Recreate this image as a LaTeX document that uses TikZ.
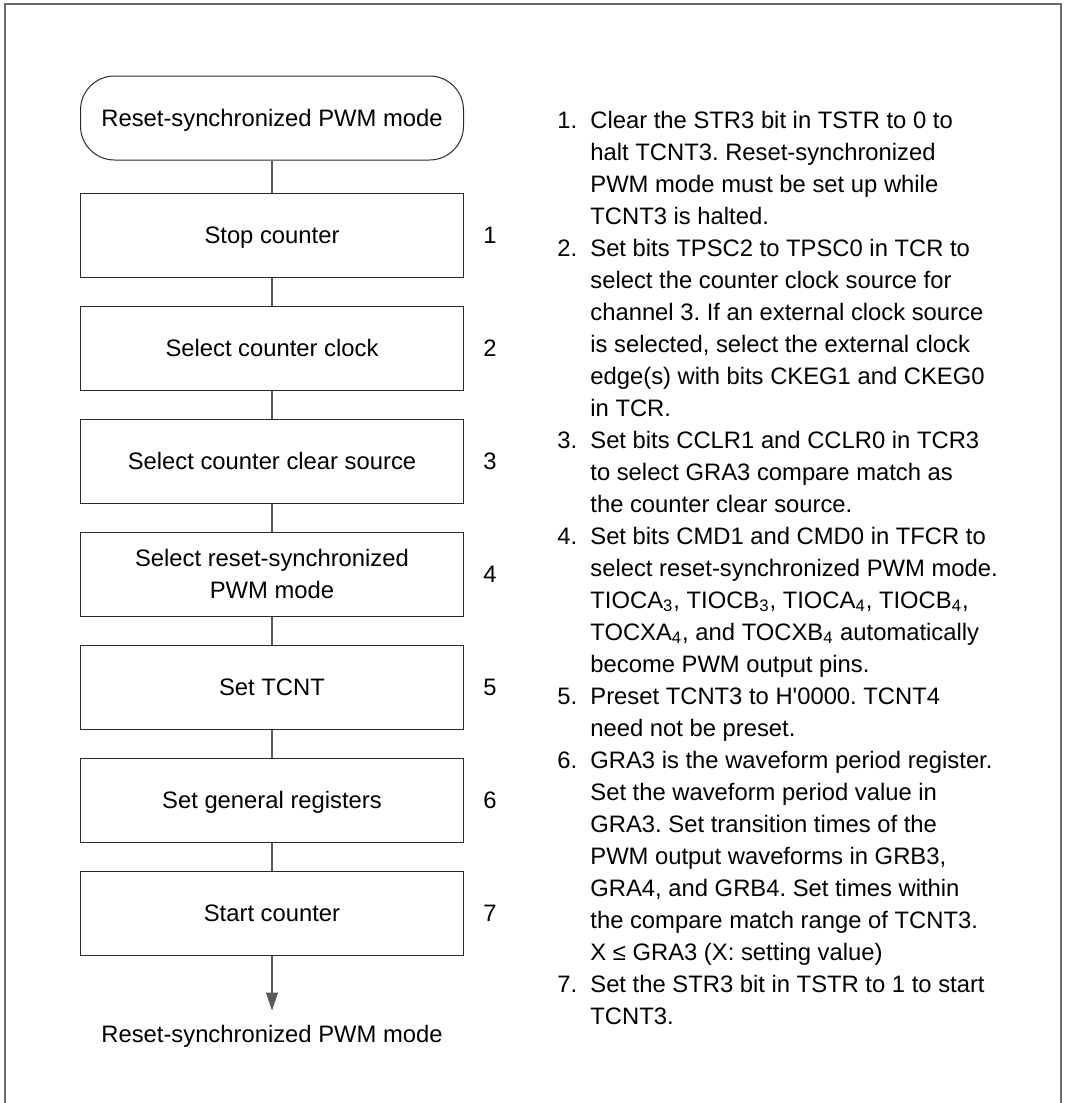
\documentclass[tikz,border=0pt]{standalone}
\usepackage{fontspec}
\setmainfont{Liberation Sans}
\usetikzlibrary{arrows.meta,positioning}
\definecolor{framegray}{HTML}{6A6A6A}
\definecolor{linkgray}{HTML}{5A5A5A}
\definecolor{boxline}{HTML}{2A2A2A}
\frenchspacing

\begin{document}
\begin{tikzpicture}[
        x=0.5pt, y=-0.5pt,
        node distance=14pt,
        font=\fontsize{11.9pt}{16pt}\selectfont,
        box/.style={
          draw=boxline,
          minimum width=191.5pt,
          minimum height=42pt,
          text depth=0pt,
          align=center,
          line width=0.5pt
        },
        termbox/.style={
          box,
          rounded corners=17pt
        },
        stepnum/.style={
          inner sep=0pt,
          right=9.5pt of #1
        },
        link/.style={
          draw=linkgray,
          line width=0.6pt
        },
        arrow/.style={
          link,
          -{Triangle[length=9pt,width=6pt]}
        }
      ]

      \useasboundingbox (0,0) rectangle (1066,1103);
      \draw[framegray, line width=0.7pt] (5,1103) -- (5,4) -- (1061,4) -- (1061,1103);

      \node[termbox] (start) at (272,118) {Reset-synchronized PWM mode};
      \node[box, below=16pt of start] (stop) {Stop counter};
      \node[box, below=of stop] (clock) {Select counter clock};
      \node[box, below=of clock] (clear) {Select counter clear source};
      \node[box, below=of clear] (mode) {Select reset-synchronized\\PWM mode};
      \node[box, below=of mode] (tcnt) {Set TCNT};
      \node[box, below=of tcnt] (regs) {Set general registers};
      \node[box, below=of regs] (run) {Start counter};
      \coordinate[below=27.5pt of run.south] (tip);
      \node[inner sep=0pt, below=7pt of tip] (finish) {Reset-synchronized PWM mode};

      \node[stepnum=stop] (n1) {1};
      \node[stepnum=clock] (n2) {2};
      \node[stepnum=clear] (n3) {3};
      \node[stepnum=mode] (n4) {4};
      \node[stepnum=tcnt] (n5) {5};
      \node[stepnum=regs] (n6) {6};
      \node[stepnum=run] (n7) {7};

      \draw[link] (start) -- (stop);
      \draw[link] (stop) -- (clock);
      \draw[link] (clock) -- (clear);
      \draw[link] (clear) -- (mode);
      \draw[link] (mode) -- (tcnt);
      \draw[link] (tcnt) -- (regs);
      \draw[link] (regs) -- (run);
      \draw[arrow] (run) -- (tip);

      % notes beside the flow
      \node[anchor=base west, inner sep=0pt] (notes) at (557,128) {%
        \begin{tabular}[t]{@{}p{16.5pt}@{}l@{}}
          1. & Clear the STR3 bit in TSTR to 0 to\\
             & halt TCNT3. Reset-synchronized\\
             & PWM mode must be set up while\\
             & TCNT3 is halted.\\
          2. & Set bits TPSC2 to TPSC0 in TCR to\\
             & select the counter clock source for\\
             & channel 3. If an external clock source\\
             & is selected, select the external clock\\
             & edge(s) with bits CKEG1 and CKEG0\\
             & in TCR.\\
          3. & Set bits CCLR1 and CCLR0 in TCR3\\
             & to select GRA3 compare match as\\
             & the counter clear source.\\
          4. & Set bits CMD1 and CMD0 in TFCR to\\
             & select reset-synchronized PWM mode.\\
             & TIOCA\textsubscript{3}, TIOCB\textsubscript{3}, TIOCA\textsubscript{4}, TIOCB\textsubscript{4},\\
             & TOCXA\textsubscript{4}, and TOCXB\textsubscript{4} automatically\\
             & become PWM output pins.\\
          5. & Preset TCNT3 to H\textquotesingle 0000. TCNT4\\
             & need not be preset.\\
          6. & GRA3 is the waveform period register.\\
             & Set the waveform period value in\\
             & GRA3. Set transition times of the\\
             & PWM output waveforms in GRB3,\\
             & GRA4, and GRB4. Set times within\\
             & the compare match range of TCNT3.\\
             & X ≤ GRA3 (X: setting value)\\
          7. & Set the STR3 bit in TSTR to 1 to start\\
             & TCNT3.
        \end{tabular}};

      \end{tikzpicture}
\end{document}
